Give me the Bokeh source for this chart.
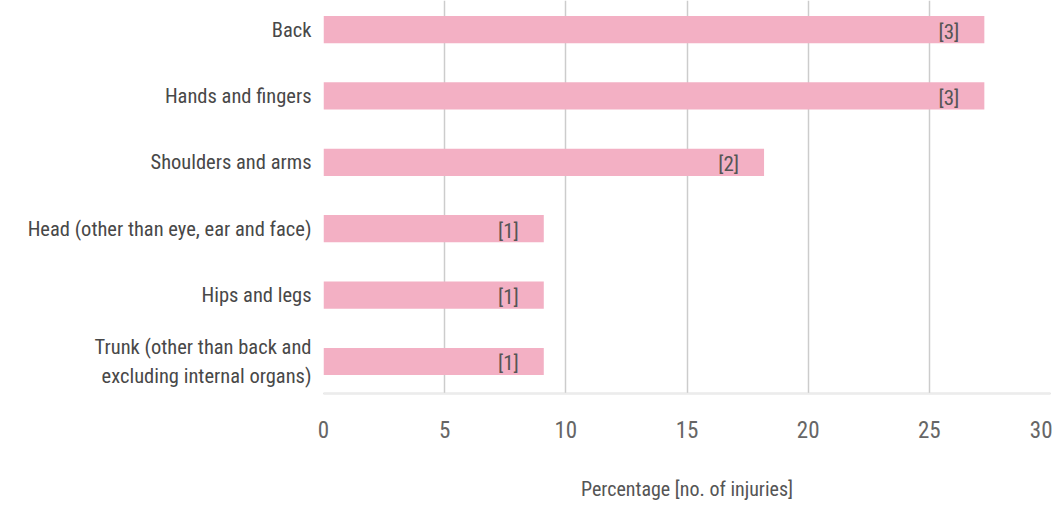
from bokeh.plotting import figure
from bokeh.models import Range1d, FixedTicker, LinearAxis, ColumnDataSource
from bokeh.core.properties import value
from bokeh.embed import file_html
from bokeh.resources import INLINE

# ---- data (top to bottom as shown) ----
categories = [
    "Back",
    "Hands and fingers",
    "Shoulders and arms",
    "Head (other than eye, ear and face)",
    "Hips and legs",
    "Trunk (other than back and\nexcluding internal organs)",
]
percentages = [27.27, 27.27, 18.18, 9.09, 9.09, 9.09]
injury_counts = [3, 3, 2, 1, 1, 1]
x_ticks = [0, 5, 10, 15, 20, 25, 30]

FONT = "'Liberation Sans Narrow', 'Roboto Condensed', 'DejaVu Sans Condensed', sans-serif"

n = len(categories)
ypos = [n - 1 - i for i in range(n)]
labels = ["[%d]" % c for c in injury_counts]

src = ColumnDataSource(dict(y=ypos, v=percentages, lab=labels))

p = figure(
    width=1052, height=509,
    x_range=Range1d(0, 30), y_range=Range1d(-0.482, n - 1 + 0.437),
    output_backend="svg", toolbar_location=None,
    x_axis_location=None, y_axis_location="left",
    min_border_left=323, min_border_right=2, min_border_top=0, min_border_bottom=116,
)
p.outline_line_color = None
p.background_fill_color = "white"
p.border_fill_color = "white"

p.hbar(y="y", left=0, right="v", height=0.41, source=src,
       fill_color="#f3b0c4", line_color=None)

p.text(x="v", y="y", text="lab", source=src, x_offset=-25, y_offset=2,
       text_align="right", text_baseline="middle",
       text_font=value(FONT), text_font_size="21px", text_color="#555555")

# y axis
yax = p.yaxis[0]
yax.ticker = FixedTicker(ticks=ypos)
yax.major_label_overrides = {int(y): c for y, c in zip(ypos, categories)}
yax.axis_line_color = None
yax.major_tick_line_color = None
yax.minor_tick_line_color = None
yax.major_tick_out = 0
yax.major_label_standoff = 12
yax.major_label_text_font = FONT
yax.major_label_text_font_size = "20.5px"
yax.major_label_text_color = "#484848"

# x axes: first draws the frame bottom line, second the light axis below it
ax1 = LinearAxis(ticker=FixedTicker(ticks=[]), axis_line_color="#c8c8c8",
                 axis_line_width=1.5, major_tick_out=10, major_tick_in=0,
                 major_tick_line_color=None, minor_tick_line_color=None,
                 major_label_text_font_size="0px")
p.add_layout(ax1, "below")

ax2 = LinearAxis(ticker=FixedTicker(ticks=x_ticks), axis_line_color="#ececec",
                 axis_line_width=1.5, major_tick_out=0, major_tick_in=0,
                 major_tick_line_color=None, minor_tick_line_color=None,
                 major_label_standoff=27,
                 major_label_text_font=FONT, major_label_text_font_size="23px",
                 major_label_text_color="#666666",
                 axis_label="Percentage [no. of injuries]",
                 axis_label_standoff=36,
                 axis_label_text_font=FONT, axis_label_text_font_size="20px",
                 axis_label_text_font_style="normal",
                 axis_label_text_color="#555555")
p.add_layout(ax2, "below")

p.xgrid.ticker = FixedTicker(ticks=x_ticks)
p.xgrid.grid_line_color = "#cccccc"
p.xgrid.grid_line_width = 1.5
p.ygrid.grid_line_color = None

open("out.html", "w").write(file_html(p, INLINE))
